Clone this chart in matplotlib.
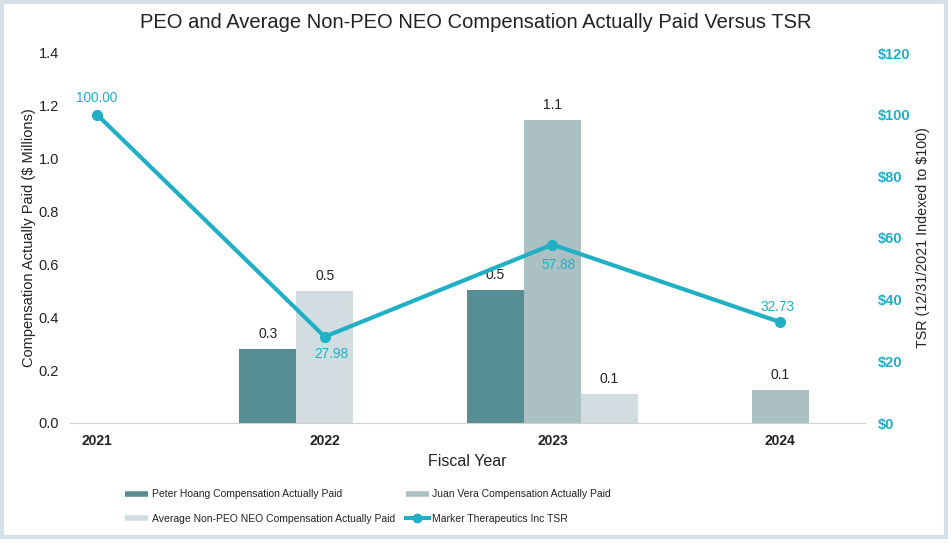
import matplotlib
matplotlib.use("Agg")
import matplotlib.pyplot as plt
from matplotlib.lines import Line2D
from matplotlib.patches import Rectangle
import numpy as np

years = ['2021', '2022', '2023', '2024']
peter = [None, 0.28, 0.505, None]
juan = [None, None, 1.145, 0.125]
avg_neo = [None, 0.50, 0.111, None]
tsr = [100.00, 27.98, 57.88, 32.73]

series_names = ['Peter Hoang Compensation Actually Paid',
                'Juan Vera Compensation Actually Paid',
                'Average Non-PEO NEO Compensation Actually Paid',
                'Marker Therapeutics Inc TSR']

c_peter = '#578e94'
c_juan = '#abc0c3'
c_avg = '#d1dde1'
c_line = '#20afc4'

# slot position within a year group (-1 left, 0 middle, 1 right)
peter_slot = [-1, -1, -1, -1]
juan_slot = [0, 0, 0, 0]
avg_slot = [0, 0, 1, 0]

plt.rcParams['font.family'] = ['Liberation Sans', 'DejaVu Sans']

fig = plt.figure(figsize=(9.51, 5.43), dpi=100)
ax = fig.add_axes([70/951, 1-423/543, (865-70)/951, (423-53)/543])
ax2 = ax.twinx()

x = np.arange(len(years))
w = 0.25

def draw(vals, slots, color):
    for i, v in enumerate(vals):
        if v is None:
            continue
        xi = x[i] + slots[i] * w
        ax.bar(xi, v, width=w, color=color, edgecolor='none', zorder=2)
        ax.text(xi, v + 0.03, f"{v:.1f}", ha='center', va='bottom',
                fontsize=10, color='#222222')

draw(peter, peter_slot, c_peter)
draw(juan, juan_slot, c_juan)
draw(avg_neo, avg_slot, c_avg)

ax.set_ylim(0, 1.4)
ax.set_yticks(np.arange(0, 1.41, 0.2))
ax.set_yticklabels([f"{t:.1f}" for t in np.arange(0, 1.41, 0.2)], fontsize=10.5, color='#222222')
ax.set_xlim(-0.119, 3.373)
ax.set_xticks(x)
ax.set_xticklabels(years, fontsize=10, fontweight='bold', color='#222222')
ax.tick_params(axis='both', length=0)
ax.tick_params(axis='x', pad=8)
ax.tick_params(axis='y', pad=8)
for s in ['top', 'right', 'left']:
    ax.spines[s].set_visible(False)
ax.spines['bottom'].set_color('#d0d0d0')
ax.set_xlabel('Fiscal Year', fontsize=11.5, color='#222222', labelpad=4)
ax.set_ylabel('Compensation Actually Paid ($ Millions)', fontsize=10.5, color='#222222', labelpad=2)

ax2.plot(x, tsr, color=c_line, lw=3, marker='o', ms=7, zorder=5)
ax2.set_ylim(0, 120)
ax2.set_yticks(np.arange(0, 121, 20))
ax2.set_yticklabels([f"${int(t)}" for t in np.arange(0, 121, 20)], fontsize=10.5,
                    fontweight='bold', color=c_line)
ax2.tick_params(axis='y', length=0, pad=9)
for s in ['top', 'right', 'left', 'bottom']:
    ax2.spines[s].set_visible(False)
ax2.set_ylabel('TSR (12/31/2021 Indexed to $100)', fontsize=10.3, color='#222222', labelpad=4)

offsets = [(0, 17), (7, -17), (6, -20), (-3, 15)]
for i, v in enumerate(tsr):
    ax2.annotate(f"{v:.2f}", (x[i], v), xytext=offsets[i], textcoords='offset pixels',
                 ha='center', va='center', fontsize=9.8, color=c_line, zorder=6)

fig.text(0.5, 1-22/543, 'PEO and Average Non-PEO NEO Compensation Actually Paid Versus TSR',
         ha='center', va='center', fontsize=14.5, color='#222222')

handles = [Line2D([], [], color=c_peter, lw=4, solid_capstyle='butt'),
           Line2D([], [], color=c_avg, lw=4, solid_capstyle='butt'),
           Line2D([], [], color=c_juan, lw=4, solid_capstyle='butt'),
           Line2D([], [], color=c_line, lw=3, marker='o', ms=6)]
labels = [series_names[0], series_names[2], series_names[1], series_names[3]]
fig.legend(handles, labels, ncol=2, loc='center', bbox_to_anchor=(368/951, 1-506.5/543),
           frameon=False, fontsize=7.5, handlelength=2.2, handletextpad=0.3,
           columnspacing=1.05, labelspacing=1.35, labelcolor='#222222')

fig.patches.append(Rectangle((1.5/951, 6/543), 944/951, 535/543, transform=fig.transFigure,
                             fill=False, edgecolor='#d6e1e5', lw=3))

fig.savefig('out.png', dpi=100)
